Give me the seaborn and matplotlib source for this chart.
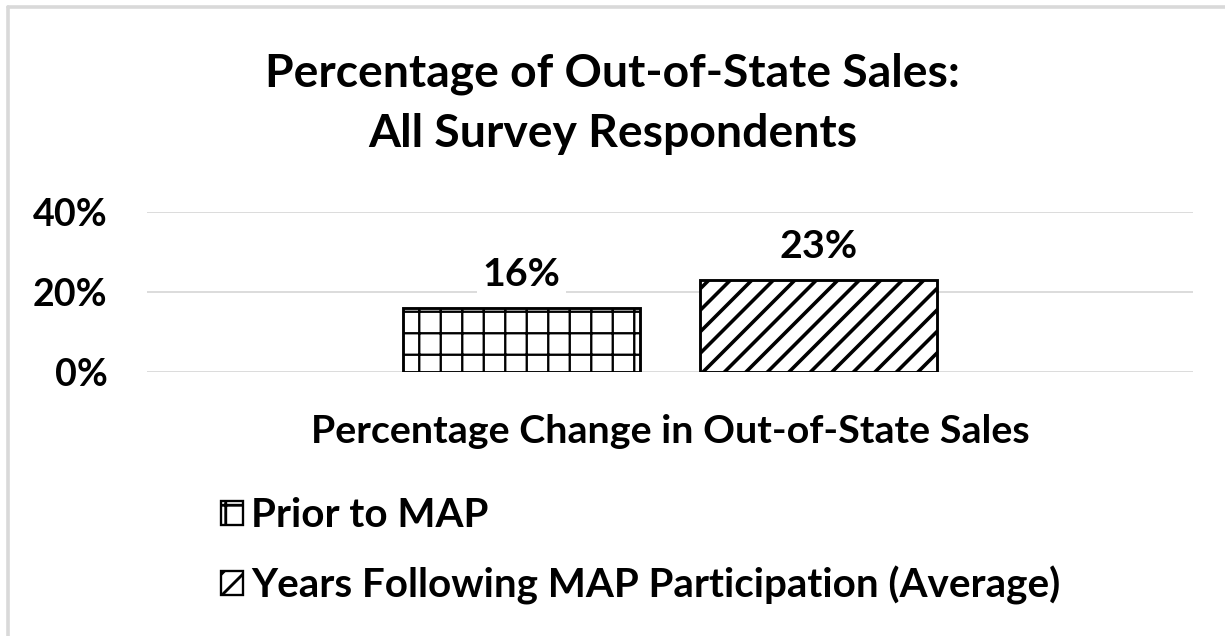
import matplotlib
matplotlib.use("Agg")
import matplotlib.pyplot as plt
from matplotlib.patches import Patch
from matplotlib.lines import Line2D
import pandas as pd
import seaborn as sns

# data
category = ["Percentage Change in Out-of-State Sales"]
periods = ["Prior to MAP", "Years Following MAP Participation (Average)"]
values = [16, 23]
yticks = [0, 20, 40]
hatches = ["+", "//"]
hatch_widths = [1.3, 2.0]

W, H, DPI = 1225, 636, 129   # dpi picked so hatch spacing matches the reference

sns.set_theme(style="white")
plt.rcParams["font.family"] = ["Lato", "DejaVu Sans"]
plt.rcParams["font.weight"] = "bold"
plt.rcParams["text.color"] = "black"
plt.rcParams["xtick.color"] = "black"
plt.rcParams["ytick.color"] = "black"
plt.rcParams["hatch.linewidth"] = 1.6
plt.rcParams["hatch.color"] = "black"

df = pd.DataFrame({
    "category": category * len(periods),
    "period": periods,
    "value": values,
})

fig = plt.figure(figsize=(W / DPI, H / DPI), dpi=DPI)
ax = fig.add_axes([147 / W, 1 - 372 / H, (1193 - 147) / W, 160 / H])

sns.barplot(data=df, x="category", y="value", hue="period",
            palette=["white", "white"], edgecolor="black", linewidth=1.6,
            width=0.568, gap=0.2, legend=False, ax=ax)

for cont, h, hw in zip(ax.containers, hatches, hatch_widths):
    for bar in cont:
        bar.set_hatch(h)
        if hasattr(bar, "set_hatch_linewidth"):
            bar.set_hatch_linewidth(hw)
    ax.bar_label(cont, labels=[f"{v:.0f}%" for v in cont.datavalues],
                 padding=9, fontsize=22, fontweight="bold",
                 bbox=dict(facecolor="white", edgecolor="none", pad=3))

ax.set_ylim(0, 40)
ax.set_yticks(yticks)
ax.set_yticklabels([f"{t}%" for t in yticks], fontsize=21, fontweight="bold")
ax.tick_params(axis="y", length=0, pad=22)
ax.tick_params(axis="x", length=0, pad=23.5, labelsize=22)
for lbl in ax.get_xticklabels():
    lbl.set_fontweight("bold")
ax.set_xlim(-0.5, 0.5)
ax.set_xlabel("")
ax.set_ylabel("")
ax.grid(axis="y", color="#d9d9d9", linewidth=1.0)
ax.set_axisbelow(True)
sns.despine(ax=ax, left=True, bottom=True)

fig.text(0.5, 1 - 104 / H, "Percentage of Out-of-State Sales:\nAll Survey Respondents",
         ha="center", va="center", fontsize=25.8, fontweight="bold", linespacing=1.52)

handles = [Patch(facecolor="white", edgecolor="black", hatch=h, linewidth=1.3)
           for h in hatches]
fig.legend(handles, periods, loc="upper left",
           bbox_to_anchor=(221 / W, 1 - 497 / H), frameon=False,
           fontsize=22.5, handlelength=0.55, handleheight=0.55,
           handletextpad=0.2, labelspacing=0.78, borderaxespad=0, borderpad=0)

# chart frame (top and left edges visible)
fig.add_artist(Line2D([8 / W, 8 / W], [0, 1 - 7 / H],
                      transform=fig.transFigure, color="#d9d9d9", linewidth=2.0))
fig.add_artist(Line2D([8 / W, 1], [1 - 7 / H, 1 - 7 / H],
                      transform=fig.transFigure, color="#d9d9d9", linewidth=2.0))

fig.savefig("out.png", dpi=DPI, facecolor="white")
